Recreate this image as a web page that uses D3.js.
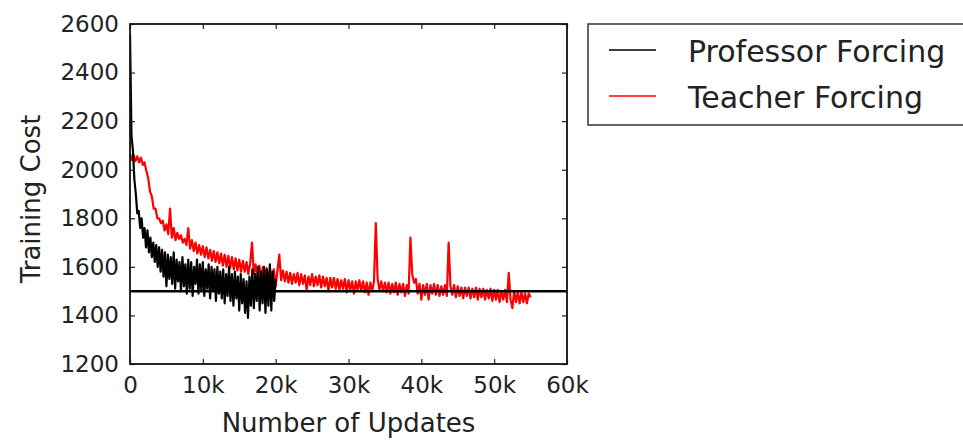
<!DOCTYPE html>
<html>
<head>
<meta charset="utf-8">
<script src="https://cdn.jsdelivr.net/npm/d3@7"></script>
<style>
  body { margin: 0; background: #fff; }
  svg text { font-family: "DejaVu Sans", sans-serif; fill: #222; }
</style>
</head>
<body>
<svg width="963" height="441"></svg>
<script>
// series
var profStep = 200;   // updates between black samples
var profCost = [
  2560, 2140, 2080, 1960, 1900, 1820, 1830, 1760, 1800, 1720,
  1760, 1680, 1750, 1660, 1720, 1640, 1700, 1620, 1690, 1600,
  1680, 1580, 1670, 1560, 1660, 1520, 1650, 1550, 1640, 1530,
  1660, 1510, 1630, 1540, 1620, 1500, 1640, 1520, 1610, 1490,
  1630, 1510, 1620, 1480, 1600, 1530, 1630, 1490, 1610, 1500,
  1620, 1480, 1590, 1510, 1610, 1470, 1600, 1500, 1590, 1460,
  1600, 1490, 1580, 1470, 1590, 1450, 1570, 1480, 1600, 1460,
  1570, 1440, 1580, 1470, 1560, 1420, 1570, 1450, 1550, 1410,
  1540, 1390, 1560, 1440, 1590, 1430, 1570, 1460, 1600, 1420,
  1580, 1450, 1600, 1410, 1590, 1440, 1610, 1420, 1580, 1460,
  1550
];

var teachStep = 250;  // updates between red samples
var teachCost = [
  2065, 2040, 2060, 2035, 2055, 2030, 2050, 2020, 2030, 1995,
  1965, 1910, 1890, 1840, 1840, 1800, 1800, 1780, 1790, 1750,
  1775, 1735, 1840, 1720, 1760, 1710, 1740, 1715, 1730, 1700,
  1715, 1690, 1760, 1675, 1710, 1665, 1700, 1655, 1690, 1650,
  1685, 1640, 1680, 1635, 1670, 1625, 1665, 1620, 1660, 1615,
  1655, 1605, 1650, 1600, 1645, 1595, 1640, 1590, 1635, 1585,
  1630, 1580, 1625, 1580, 1620, 1570, 1615, 1700, 1570, 1610,
  1560, 1605, 1555, 1600, 1550, 1595, 1550, 1590, 1545, 1590,
  1520, 1585, 1650, 1545, 1585, 1540, 1580, 1535, 1575, 1530,
  1570, 1535, 1575, 1525, 1570, 1530, 1565, 1505, 1560, 1525,
  1570, 1520, 1560, 1525, 1565, 1515, 1560, 1520, 1555, 1500,
  1555, 1515, 1555, 1510, 1550, 1505, 1545, 1510, 1550, 1495,
  1545, 1505, 1540, 1490, 1540, 1505, 1545, 1500, 1540, 1495,
  1535, 1485, 1535, 1500, 1540, 1780, 1550, 1505, 1540, 1500,
  1535, 1495, 1535, 1490, 1530, 1495, 1535, 1485, 1530, 1495,
  1530, 1480, 1525, 1490, 1720, 1570, 1535, 1550, 1490, 1530,
  1465, 1525, 1485, 1530, 1465, 1525, 1490, 1530, 1485, 1525,
  1480, 1520, 1485, 1525, 1480, 1700, 1520, 1485, 1525, 1475,
  1520, 1480, 1515, 1470, 1515, 1480, 1515, 1470, 1510, 1475,
  1515, 1465, 1510, 1475, 1510, 1465, 1505, 1470, 1510, 1460,
  1505, 1465, 1505, 1455, 1500, 1465, 1505, 1455, 1575, 1465,
  1430, 1500, 1455, 1495, 1450, 1495, 1455, 1490, 1450, 1490,
  1475
];

var baseline = 1500;
var xTicks = [0, 10000, 20000, 30000, 40000, 50000, 60000];
var xTickLabels = ["0", "10k", "20k", "30k", "40k", "50k", "60k"];
var yTicks = [1200, 1400, 1600, 1800, 2000, 2200, 2400, 2600];
var seriesNames = ["Professor Forcing", "Teacher Forcing"];
var seriesColors = ["#000000", "#ff0000"];

var svg = d3.select("svg");
// plot box in pixels (avoid the name "top", it is window.top)
var plotL = 130, plotR = 567, plotT = 24, plotB = 364;

var x = d3.scaleLinear().domain([0, 60000]).range([plotL, plotR]);
var y = d3.scaleLinear().domain([1200, 2600]).range([plotB, plotT]);

var plot = svg.append("g");
plot.append("clipPath").attr("id", "clip")
  .append("rect").attr("x", plotL).attr("y", plotT)
  .attr("width", plotR - plotL).attr("height", plotB - plotT);

var line = d3.line()
  .x(function(d) { return x(d[0]); })
  .y(function(d) { return y(d[1]); });

var teach = teachCost.map(function(v, i) { return [i * teachStep, v]; });
var prof = profCost.map(function(v, i) { return [i * profStep, v]; });

plot.append("path").datum(teach)
  .attr("d", line).attr("fill", "none")
  .attr("stroke", seriesColors[1]).attr("stroke-width", 2.2)
  .attr("stroke-linejoin", "round")
  .attr("clip-path", "url(#clip)");

plot.append("path").datum(prof)
  .attr("d", line).attr("fill", "none")
  .attr("stroke", seriesColors[0]).attr("stroke-width", 2.2)
  .attr("stroke-linejoin", "round")
  .attr("clip-path", "url(#clip)");

// reference line
plot.append("line")
  .attr("x1", plotL).attr("x2", plotR)
  .attr("y1", y(baseline)).attr("y2", y(baseline))
  .attr("stroke", "#000").attr("stroke-width", 2.5);

// axes, ticks pointing in like classic matplotlib
var fmt = function(d) { return xTickLabels[xTicks.indexOf(d)]; };
svg.append("g").attr("transform", "translate(0," + plotB + ")")
  .call(d3.axisBottom(x).tickValues(xTicks).tickFormat(fmt).tickSizeInner(-5).tickSizeOuter(0).tickPadding(13))
  .call(function(g) { g.select(".domain").remove(); })
  .selectAll("text").style("font-size", "23px").style("fill", "#222");

svg.append("g").attr("transform", "translate(0," + plotT + ")")
  .call(d3.axisTop(x).tickValues(xTicks).tickFormat("").tickSizeInner(-5).tickSizeOuter(0))
  .call(function(g) { g.select(".domain").remove(); });

svg.append("g").attr("transform", "translate(" + plotL + ",0)")
  .call(d3.axisLeft(y).tickValues(yTicks).tickFormat(d3.format("d")).tickSizeInner(-5).tickSizeOuter(0).tickPadding(11))
  .call(function(g) { g.select(".domain").remove(); })
  .selectAll("text").style("font-size", "23px").style("fill", "#222");

svg.append("g").attr("transform", "translate(" + plotR + ",0)")
  .call(d3.axisRight(y).tickValues(yTicks).tickFormat("").tickSizeInner(-5).tickSizeOuter(0))
  .call(function(g) { g.select(".domain").remove(); });

svg.selectAll(".tick line").attr("stroke", "#222").attr("stroke-width", 1.2);

svg.append("rect")
  .attr("x", plotL).attr("y", plotT)
  .attr("width", plotR - plotL).attr("height", plotB - plotT)
  .attr("fill", "none").attr("stroke", "#111").attr("stroke-width", 1.8);

// axis titles
svg.append("text")
  .attr("x", (plotL + plotR) / 2).attr("y", 432)
  .attr("text-anchor", "middle").style("font-size", "26px")
  .text("Number of Updates");

svg.append("text")
  .attr("transform", "translate(40," + ((plotT + plotB) / 2 + 5) + ") rotate(-90)")
  .attr("text-anchor", "middle").style("font-size", "26px")
  .text("Training Cost");

// legend
var legend = svg.append("g");
legend.append("rect")
  .attr("x", 588).attr("y", 24).attr("width", 400).attr("height", 101)
  .attr("fill", "#fff").attr("stroke", "#333").attr("stroke-width", 1.5);

seriesNames.forEach(function(name, i) {
  var ly = 50 + i * 46;
  legend.append("line")
    .attr("x1", 609).attr("x2", 656).attr("y1", ly).attr("y2", ly)
    .attr("stroke", seriesColors[i]).attr("stroke-width", 1.4);
  legend.append("text")
    .attr("x", 688).attr("y", ly + 12)
    .style("font-size", "30px")
    .text(name);
});
</script>
</body>
</html>
